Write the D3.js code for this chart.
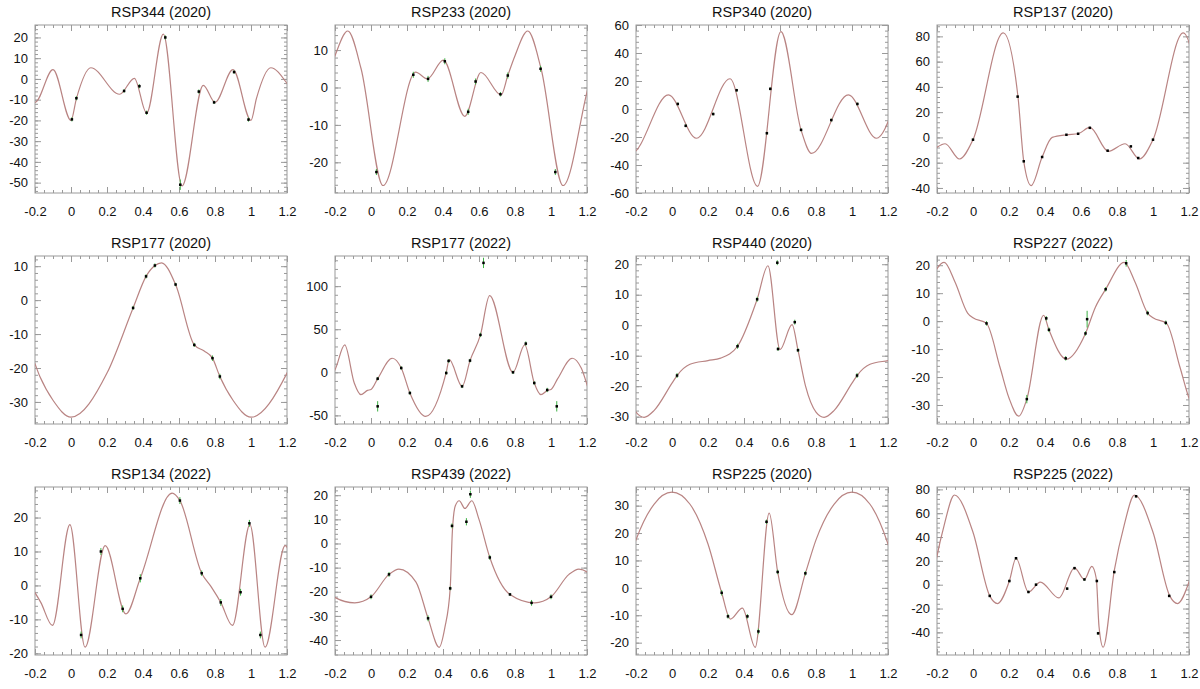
<!DOCTYPE html>
<html>
<head>
<meta charset="utf-8">
<script src="https://cdn.jsdelivr.net/npm/d3@7"></script>
<style>
body { margin: 0; background: #fff; }
text { font-family: "Liberation Sans", Arial, sans-serif; fill: #111; }
</style>
</head>
<body>
<svg id="chart" width="1200" height="689"></svg>
<script>
// panel titles, left to right, top to bottom
var titles = [
    'RSP344 (2020)', 'RSP233 (2020)', 'RSP340 (2020)', 'RSP137 (2020)',
    'RSP177 (2020)', 'RSP177 (2022)', 'RSP440 (2020)', 'RSP227 (2022)',
    'RSP134 (2022)', 'RSP439 (2022)', 'RSP225 (2020)', 'RSP225 (2022)'
];
var yRanges = [
    [-55, 26], [-28.2, 16.7], [-60, 60], [-44, 89],
    [-36.5, 13], [-60, 135], [-32.4, 22.7], [-36.8, 23.3],
    [-20.5, 29], [-46.2, 23.4], [-24.5, 36.8], [-59, 82]
];
var yMajor = [10, 10, 20, 20, 10, 50, 10, 10, 10, 10, 10, 20];
var yMinor = [2, 2, 4, 4, 2, 10, 2, 2, 2, 2, 2, 4];
var xTicks = [-0.2, 0, 0.2, 0.4, 0.6, 0.8, 1, 1.2];

// fitted curves: [phase, value] knots over one cycle
var fit344a = [[0.0, -20], [0.03, -9.5], [0.11, 5.4], [0.27, -7.4], [0.352, 0.3], [0.42, -16.5], [0.513, 21.6], [0.617, -51.6], [0.735, -3.1], [0.80, -11.3], [0.90, 4.5]];
var fit233a = [[0.067, -26.2], [0.248, 4.1], [0.313, 2.3], [0.402, 7.3], [0.521, -7.7], [0.611, 4.0], [0.723, -2.0], [0.76, 3.2], [0.8, 8.5], [0.871, 15.1], [0.945, 5]];
var fit340a = [[0.136, -20.9], [0.322, 21.6], [0.475, -55.2], [0.605, 55.2], [0.717, -15], [0.775, -31.7], [0.98, 10.1]];
var fit137a = [[0.0, -1.8], [0.168, 82.7], [0.25, 32], [0.282, -19], [0.323, -38.1], [0.384, -15.5], [0.44, 0], [0.52, 2.1], [0.584, 2.9], [0.649, 7.9], [0.752, -11], [0.845, -5], [0.925, -17.1]];
var fit177a = [[0.0, -34.5], [0.2, -21.5], [0.345, -2.3], [0.417, 7], [0.466, 10.2], [0.503, 11], [0.581, 4.6], [0.685, -13.2], [0.74, -15], [0.786, -17.1], [0.827, -22.5], [0.9, -29.5]];
var fit177b = [[0.0, -20], [0.037, -7.4], [0.118, 16.3], [0.168, 5], [0.216, -24], [0.304, -51.2], [0.418, 0], [0.435, 14.7], [0.506, -16.3], [0.55, 13.6], [0.608, 43.4], [0.659, 89.1], [0.789, 0], [0.854, 31.8], [0.907, -12.4], [0.944, -26], [0.98, -21]];
var fit440a = [[0.0, -19], [0.028, -16.5], [0.1, -12.8], [0.2, -11.6], [0.27, -10.8], [0.364, -6.9], [0.473, 8.5], [0.533, 19.5], [0.6, -8], [0.667, 0.2], [0.70, -8.2], [0.742, -20], [0.8, -28.5], [0.845, -30.2], [0.9, -28]];
var fit227b = [[0.0, 1.2], [0.075, -0.8], [0.15, -16.5], [0.2, -27.5], [0.254, -34], [0.299, -27.9], [0.392, 2.1], [0.422, -3.1], [0.519, -13.6], [0.625, -4.4], [0.68, 5], [0.737, 11.4], [0.84, 21], [0.9, 14], [0.97, 2.9]];
var fit134b = [[0.078, -18.2], [0.19, 11.7], [0.305, -8.4], [0.385, 2.1], [0.562, 27.2], [0.605, 25], [0.726, 3.6], [0.78, -0.5], [0.832, -5], [0.897, -11.8], [0.994, 17.9]];
var fit439b = [[0.0, -22.1], [0.1, -12.8], [0.155, -10.6], [0.25, -16], [0.317, -31], [0.379, -43], [0.41, -35], [0.44, -18.6], [0.452, 5], [0.468, 15.5], [0.49, 17.7], [0.522, 14.5], [0.56, 17.7], [0.6, 10], [0.66, -5.8], [0.772, -21.1], [0.91, -24.6]];
var fit225a = [[0.0, 34.9], [0.1, 30.5], [0.2, 16], [0.276, -1.8], [0.324, -11.4], [0.391, -7.4], [0.462, -21.7], [0.54, 27.3], [0.587, 5.8], [0.665, -9.8], [0.741, 5.3], [0.8, 17.5], [0.9, 30.5]];
var fit225b = [[0.0, 44], [0.093, -9.4], [0.136, -15.8], [0.202, 3.1], [0.239, 22.2], [0.308, -6.1], [0.374, 2.2], [0.477, -11.1], [0.564, 14.2], [0.619, 4.4], [0.66, 15.3], [0.685, 5], [0.7, -35], [0.723, -52.5], [0.785, 12], [0.84, 50], [0.897, 75.3]];

// observations: [phase, value, error]
var obs344a = [[0.005, -19.5, 1], [0.03, -9.3, 1], [0.295, -5.8, 0.8], [0.38, -3.5, 1], [0.42, -16.3, 1], [0.524, 20, 1], [0.607, -51, 2.5], [0.71, -6.1, 1], [0.795, -11.3, 0.8], [0.906, 3.3, 0.8], [0.986, -19.6, 1]];
var obs233a = [[0.03, -22.6, 0.8], [0.235, 3.4, 0.8], [0.317, 2.3, 0.8], [0.41, 7.0, 0.8], [0.54, -6.5, 0.8], [0.581, 1.6, 0.8], [0.719, -1.8, 0.6], [0.76, 3.2, 0.8], [0.942, 5.0, 0.8], [1.024, -22.6, 0.8]];
var obs340a = [[0.032, 3.6, 1], [0.076, -12, 1], [0.229, -3.6, 1], [0.359, 13.4, 1], [0.527, -17.3, 1], [0.546, 14.4, 1], [0.717, -14.9, 1], [0.885, -7.9, 1], [1.03, 3.6, 1]];
var obs137a = [[0, -1.8, 0.8], [0.248, 32.3, 0.8], [0.282, -18.9, 0.8], [0.384, -15.5, 0.8], [0.519, 2.1, 0.6], [0.584, 2.9, 0.6], [0.649, 7.6, 0.6], [0.748, -10.5, 0.6], [0.877, -7.1, 0.6], [0.918, -16.3, 0.6], [1.0, -1.8, 0.8]];
var obs177a = [[0.345, -2.3, 0.6], [0.417, 7.0, 0.6], [0.466, 10.2, 0.6], [0.581, 4.6, 0.5], [0.685, -13.2, 0.6], [0.786, -17.1, 0.8], [0.827, -22.5, 0.8]];
var obs177b = [[0.037, -7.4, 2], [0.168, 5, 2], [0.216, -24, 2], [0.418, -0.8, 2], [0.431, 13.2, 2], [0.506, -16.3, 2], [0.55, 13.6, 2], [0.608, 43.4, 2.5], [0.789, 0, 2], [0.86, 33.3, 2.5], [0.907, -12.4, 2], [0.979, -20.5, 2.5], [0.037, -39.5, 6], [0.625, 127, 6], [1.032, -39.5, 6]];
var obs440a = [[0.028, -16.5, 0.8], [0.364, -6.9, 0.8], [0.473, 8.5, 0.8], [0.585, 20.5, 0.8], [0.589, -7.8, 0.6], [0.682, 1.0, 0.8], [0.70, -8.2, 0.6], [1.028, -16.5, 0.8]];
var obs227b = [[0.075, -0.8, 0.8], [0.299, -27.9, 1.5], [0.407, 1.0, 0.8], [0.422, -3.1, 0.8], [0.515, -13.3, 0.8], [0.625, -4.4, 0.8], [0.634, 0.7, 3], [0.737, 11.4, 0.8], [0.851, 20.7, 1.2], [0.97, 2.9, 0.8], [1.071, -0.6, 0.8]];
var obs134b = [[0.056, -14.6, 1], [0.166, 10, 1], [0.287, -6.9, 1], [0.385, 2.1, 1.2], [0.605, 25, 1], [0.726, 3.6, 0.8], [0.832, -5, 1], [0.942, -2, 1], [0.991, 18.3, 1], [1.052, -14.6, 1]];
var obs439b = [[0, -22.1, 1], [0.1, -12.8, 1], [0.317, -31, 1.2], [0.44, -18.6, 0.8], [0.45, 7.3, 1], [0.53, 9, 1.5], [0.552, 20.4, 1.5], [0.66, -5.8, 1], [0.772, -21.1, 0.6], [0.892, -24.6, 1.2], [1.0, -22.1, 1]];
var obs225a = [[0.276, -1.8, 1], [0.311, -10.4, 0.8], [0.419, -10.4, 0.8], [0.48, -15.9, 1], [0.525, 24.1, 0.8], [0.587, 5.8, 0.8], [0.741, 5.3, 0.8]];
var obs225b = [[0.093, -9.4, 1], [0.202, 3.1, 1], [0.239, 22.2, 1], [0.308, -6.1, 1], [0.35, 0, 1], [0.523, -3.3, 1], [0.564, 13.9, 1], [0.619, 4.4, 1], [0.688, 3.1, 1], [0.695, -40.8, 1.2], [0.785, 10.6, 1], [0.906, 74.2, 1], [1.09, -9.4, 1]];

var fits = [fit344a, fit233a, fit340a, fit137a, fit177a, fit177b, fit440a, fit227b, fit134b, fit439b, fit225a, fit225b];
var observations = [obs344a, obs233a, obs340a, obs137a, obs177a, obs177b, obs440a, obs227b, obs134b, obs439b, obs225a, obs225b];

(function () {
    var pw = 252,
        ph = 168,
        colLeft = [35, 335, 636, 937],
        rowTop = [25, 256, 487],
        frameColor = '#9a9a9a',
        curveColor = '#b98483',
        errColor = '#3cb043';

    var svg = d3.select('#chart');
    svg.append('rect').attr('width', 1200).attr('height', 689).style('fill', '#fff');

    titles.forEach(function (title, i) {
        drawPanel(i, colLeft[i % 4], rowTop[Math.floor(i / 4)]);
    });

    function steps(lo, hi, step) {
        return d3.range(Math.ceil(lo / step - 1e-9), Math.floor(hi / step + 1e-9) + 1).map(function (k) {
            return Math.round(k * step * 1000) / 1000;
        });
    }

    function drawPanel(i, left, top) {
        var g = svg.append('g').attr('transform', 'translate(' + left + ',' + top + ')');
        var x = d3.scaleLinear().domain([-0.2, 1.2]).range([0, pw]);
        var y = d3.scaleLinear().domain(yRanges[i]).range([ph, 0]);

        var xMinorVals = steps(-0.2, 1.2, 0.05),
            yMajorVals = steps(yRanges[i][0], yRanges[i][1], yMajor[i]),
            yMinorVals = steps(yRanges[i][0], yRanges[i][1], yMinor[i]);

        // inward ticks on all four sides
        [[d3.axisBottom, x, 'translate(0,' + ph + ')'], [d3.axisTop, x, 'translate(0,0)'],
         [d3.axisLeft, y, 'translate(0,0)'], [d3.axisRight, y, 'translate(' + pw + ',0)']].forEach(function (a) {
            var isX = a[1] === x;
            g.append('g').attr('transform', a[2])
                .call(a[0](a[1]).tickValues(isX ? xMinorVals : yMinorVals).tickSize(-3).tickFormat(''))
                .call(function (s) { s.select('.domain').remove(); s.selectAll('line').style('stroke', frameColor); });
            g.append('g').attr('transform', a[2])
                .call(a[0](a[1]).tickValues(isX ? xTicks : yMajorVals).tickSize(-6).tickFormat(''))
                .call(function (s) { s.select('.domain').remove(); s.selectAll('line').style('stroke', frameColor); });
        });

        g.append('rect')
            .attr('width', pw).attr('height', ph)
            .style('fill', 'none').style('stroke', frameColor).style('stroke-width', 1);

        // tick labels
        g.append('g').attr('transform', 'translate(0,' + ph + ')')
            .call(d3.axisBottom(x).tickValues(xTicks).tickSize(0).tickPadding(14)
                .tickFormat(function (d) { return String(+d.toFixed(2)); }))
            .call(function (s) { s.select('.domain').remove(); })
            .selectAll('text').style('font-size', '13px').style('font-family', '"Liberation Sans", Arial, sans-serif').style('fill', '#111');
        g.append('g')
            .call(d3.axisLeft(y).tickValues(yMajorVals).tickSize(0).tickPadding(7)
                .tickFormat(function (d) { return String(d); }))
            .call(function (s) { s.select('.domain').remove(); })
            .selectAll('text').style('font-size', '13px').style('font-family', '"Liberation Sans", Arial, sans-serif').style('fill', '#111');

        g.append('text')
            .attr('x', pw / 2).attr('y', -8)
            .attr('text-anchor', 'middle')
            .style('font-size', '14.5px')
            .text(titles[i]);

        // periodic fit curve
        var knots = [];
        [-1, 0, 1].forEach(function (shift) {
            fits[i].forEach(function (k) {
                knots.push([k[0] + shift, k[1]]);
            });
        });
        knots.sort(function (a, b) { return a[0] - b[0]; });

        g.append('clipPath').attr('id', 'clip' + i)
            .append('rect').attr('width', pw).attr('height', ph);

        g.append('path')
            .datum(knots)
            .attr('clip-path', 'url(#clip' + i + ')')
            .attr('d', d3.line()
                .x(function (d) { return x(d[0]); })
                .y(function (d) { return y(d[1]); })
                .curve(d3.curveMonotoneX))
            .style('fill', 'none')
            .style('stroke', curveColor)
            .style('stroke-width', 1.2);

        // observations with error bars
        var pts = g.append('g').selectAll('g')
            .data(observations[i])
            .enter().append('g');
        pts.append('line')
            .attr('x1', function (d) { return x(d[0]); })
            .attr('x2', function (d) { return x(d[0]); })
            .attr('y1', function (d) { return y(d[1] - d[2]); })
            .attr('y2', function (d) { return y(d[1] + d[2]); })
            .style('stroke', errColor)
            .style('stroke-width', 1);
        pts.append('rect')
            .attr('x', function (d) { return x(d[0]) - 1.25; })
            .attr('y', function (d) { return y(d[1]) - 1.25; })
            .attr('width', 2.5).attr('height', 2.5)
            .style('fill', '#000');
    }
}());
</script>
</body>
</html>
